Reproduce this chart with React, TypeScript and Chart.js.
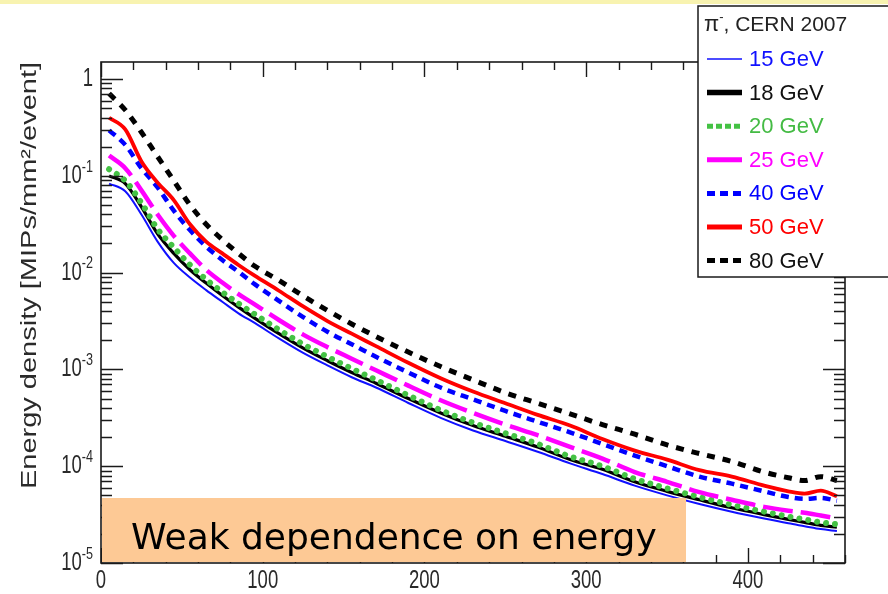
import { useEffect, useRef } from 'react';
import { Chart, registerables } from 'chart.js';

Chart.register(...registerables);

// Radial distance [mm] of each sample point
const DEPTH = [5, 15, 25, 35, 45, 55, 65, 75, 85, 95, 110, 125, 140, 155, 170, 190, 210, 230, 250, 270, 290, 310, 330, 350, 370, 390, 410, 425, 435, 445, 455];

// Energy density [MIPs/mm^2/event] per beam energy
const E15 = [0.0832, 0.0692, 0.0398, 0.0209, 0.0126, 8.9e-3, 6.6e-3, 5.0e-3, 3.8e-3, 3.02e-3, 2.09e-3, 1.48e-3, 1.1e-3, 8.3e-4, 6.5e-4, 4.5e-4, 3.16e-4, 2.34e-4, 1.82e-4, 1.41e-4, 1.07e-4, 8.3e-5, 6.3e-5, 5.0e-5, 4.07e-5, 3.39e-5, 2.88e-5, 2.57e-5, 2.4e-5, 2.24e-5, 2.14e-5];
const E18 = [0.1, 0.0832, 0.0479, 0.0251, 0.0158, 0.0107, 7.8e-3, 5.8e-3, 4.4e-3, 3.39e-3, 2.34e-3, 1.66e-3, 1.23e-3, 9.3e-4, 7.2e-4, 5.0e-4, 3.55e-4, 2.63e-4, 2.04e-4, 1.58e-4, 1.17e-4, 9.3e-5, 6.9e-5, 5.5e-5, 4.5e-5, 3.72e-5, 3.16e-5, 2.82e-5, 2.63e-5, 2.45e-5, 2.34e-5];
const E20 = [0.117, 0.0891, 0.0525, 0.0282, 0.0182, 0.012, 8.5e-3, 6.3e-3, 4.8e-3, 3.72e-3, 2.57e-3, 1.82e-3, 1.35e-3, 1.02e-3, 7.8e-4, 5.4e-4, 3.8e-4, 2.82e-4, 2.19e-4, 1.7e-4, 1.26e-4, 1.0e-4, 7.4e-5, 5.9e-5, 4.8e-5, 3.98e-5, 3.39e-5, 3.02e-5, 2.82e-5, 2.63e-5, 2.51e-5];
const E25 = [0.162, 0.12, 0.0708, 0.0398, 0.024, 0.0158, 0.0107, 7.9e-3, 6.0e-3, 4.7e-3, 3.24e-3, 2.29e-3, 1.7e-3, 1.29e-3, 9.8e-4, 6.8e-4, 4.8e-4, 3.55e-4, 2.69e-4, 2.09e-4, 1.58e-4, 1.2e-4, 8.7e-5, 6.9e-5, 5.4e-5, 4.5e-5, 3.8e-5, 3.47e-5, 3.31e-5, 3.09e-5, 2.88e-5];
const E40 = [0.295, 0.209, 0.12, 0.0759, 0.0437, 0.0275, 0.0186, 0.0135, 0.0102, 7.6e-3, 5.1e-3, 3.47e-3, 2.45e-3, 1.82e-3, 1.35e-3, 9.3e-4, 6.5e-4, 4.9e-4, 3.72e-4, 2.88e-4, 2.24e-4, 1.7e-4, 1.29e-4, 1.0e-4, 7.8e-5, 6.6e-5, 5.5e-5, 4.8e-5, 4.6e-5, 4.7e-5, 4.4e-5];
const E50 = [0.398, 0.302, 0.141, 0.0851, 0.0562, 0.0316, 0.0209, 0.0158, 0.012, 9.3e-3, 6.5e-3, 4.47e-3, 3.16e-3, 2.34e-3, 1.74e-3, 1.17e-3, 8.1e-4, 5.9e-4, 4.47e-4, 3.39e-4, 2.63e-4, 1.91e-4, 1.45e-4, 1.17e-4, 9.1e-5, 7.8e-5, 6.3e-5, 5.5e-5, 5.2e-5, 5.6e-5, 4.9e-5];
const E80 = [0.708, 0.479, 0.282, 0.158, 0.0891, 0.0501, 0.0316, 0.0219, 0.0158, 0.0117, 8.3e-3, 5.75e-3, 4.07e-3, 2.95e-3, 2.19e-3, 1.51e-3, 1.07e-3, 7.8e-4, 5.75e-4, 4.47e-4, 3.47e-4, 2.69e-4, 2.14e-4, 1.66e-4, 1.35e-4, 1.12e-4, 8.7e-5, 7.6e-5, 7.1e-5, 7.8e-5, 7.1e-5];

const SERIES_LABELS = ['15 GeV', '18 GeV', '20 GeV', '25 GeV', '40 GeV', '50 GeV', '80 GeV'];
const SERIES_VALUES = [E15, E18, E20, E25, E40, E50, E80];

const X_TICKS = [0, 100, 200, 300, 400];
const Y_EXPONENTS = [0, -1, -2, -3, -4, -5];

const LEGEND_TITLE = ', CERN 2007';
const Y_TITLE = 'Energy density [MIPs/mm²/event]';
const NOTE = 'Weak dependence on energy';

// Line appearance per series (plot and legend key)
const STYLES = [
  { color: '#1010ff', text: '#1010ff', width: 2, dash: [] as number[], cap: 'butt', keyWidth: 1.5, keyDash: [] as number[] },
  { color: '#000000', text: '#111111', width: 3.2, dash: [], cap: 'butt', keyWidth: 5.5, keyDash: [] },
  { color: '#44c244', text: '#44bb44', width: 6, dash: [0.01, 9], cap: 'round', keyWidth: 5, keyDash: [6, 3] },
  { color: '#ff00ff', text: '#ff00ff', width: 4.5, dash: [30, 8], cap: 'butt', keyWidth: 5, keyDash: [] },
  { color: '#0000ff', text: '#0000ff', width: 4.5, dash: [8, 6], cap: 'butt', keyWidth: 5, keyDash: [8, 5] },
  { color: '#ff0000', text: '#ff0000', width: 3.8, dash: [], cap: 'butt', keyWidth: 5, keyDash: [] },
  { color: '#000000', text: '#111111', width: 5, dash: [8, 8], cap: 'butt', keyWidth: 5, keyDash: [8, 5] },
];

const AXIS_FONT = '"Liberation Sans", Arial, sans-serif';
const SQUEEZE = 0.74;

const rootDecor = {
  id: 'rootDecor',
  afterDatasetsDraw(chart: any) {
    const { ctx, chartArea, scales } = chart;
    const { left, right, top, bottom } = chartArea;
    const xs = scales.x;
    const ys = scales.y;
    ctx.save();
    ctx.strokeStyle = '#1a1a1a';
    ctx.lineWidth = 1.6;
    ctx.strokeRect(left, top, right - left, bottom - top);

    ctx.lineWidth = 1.4;
    ctx.beginPath();
    for (let v = 0; v <= xs.max; v += 20) {
      const px = Math.round(xs.getPixelForValue(v)) + 0.5;
      const len = v % 100 === 0 ? 15 : 8;
      ctx.moveTo(px, top);
      ctx.lineTo(px, top + len);
      ctx.moveTo(px, bottom);
      ctx.lineTo(px, bottom - len);
    }
    for (let e = -5; e <= 0; e++) {
      for (let m = 1; m <= 9; m++) {
        const val = m * Math.pow(10, e);
        if (val > ys.max) break;
        const py = Math.round(ys.getPixelForValue(val)) + 0.5;
        const len = m === 1 ? 22 : 11;
        ctx.moveTo(left, py);
        ctx.lineTo(left + len, py);
        ctx.moveTo(right, py);
        ctx.lineTo(right - len, py);
      }
    }
    ctx.stroke();
    ctx.restore();
  },
  afterDraw(chart: any) {
    const { ctx, chartArea, scales } = chart;
    const { left, top, bottom } = chartArea;
    const xs = scales.x;
    const ys = scales.y;
    ctx.save();

    // strip along the top edge
    ctx.fillStyle = '#f8f3b0';
    ctx.fillRect(0, 0, chart.width, 4);

    // x tick labels
    ctx.fillStyle = '#2a2a2a';
    ctx.textBaseline = 'top';
    ctx.textAlign = 'center';
    for (const v of X_TICKS) {
      const px = xs.getPixelForValue(v);
      ctx.save();
      ctx.translate(px, bottom + 6);
      ctx.scale(SQUEEZE, 1);
      ctx.font = `25px ${AXIS_FONT}`;
      ctx.fillText(String(v), 0, 0);
      ctx.restore();
    }

    // y tick labels: 1, 10^-1 ... 10^-5
    for (const e of Y_EXPONENTS) {
      const py = ys.getPixelForValue(Math.pow(10, e));
      const xr = left - 8;
      ctx.save();
      ctx.translate(xr, py);
      ctx.scale(SQUEEZE, 1);
      ctx.textBaseline = 'middle';
      ctx.textAlign = 'right';
      if (e === 0) {
        ctx.font = `25px ${AXIS_FONT}`;
        ctx.fillText('1', 0, 0);
      } else {
        ctx.font = `17px ${AXIS_FONT}`;
        const sup = String(e);
        const w = ctx.measureText(sup).width;
        ctx.fillText(sup, 0, -9);
        ctx.font = `25px ${AXIS_FONT}`;
        ctx.fillText('10', -w, 0);
      }
      ctx.restore();
    }

    // y axis title
    ctx.save();
    ctx.translate(30, top);
    ctx.scale(SQUEEZE, 1);
    ctx.rotate(-Math.PI / 2);
    ctx.font = `29px ${AXIS_FONT}`;
    ctx.fillStyle = '#2a2a2a';
    ctx.textAlign = 'right';
    ctx.textBaseline = 'middle';
    ctx.fillText(Y_TITLE, 0, 0);
    ctx.restore();

    // annotation box
    const boxRight = 686;
    const boxTop = 498;
    ctx.fillStyle = '#fdc995';
    ctx.fillRect(left + 1, boxTop, boxRight - left - 1, bottom - boxTop - 1);
    ctx.fillStyle = '#000000';
    ctx.font = '36px "DejaVu Sans", Verdana, sans-serif';
    ctx.textAlign = 'left';
    ctx.textBaseline = 'alphabetic';
    ctx.fillText(NOTE, 131, 549);

    // legend
    const lx = 698;
    const ly = 6;
    ctx.fillStyle = '#ffffff';
    ctx.fillRect(lx, ly, chart.width - lx + 10, 271);
    ctx.strokeStyle = '#1a1a1a';
    ctx.lineWidth = 1.5;
    ctx.strokeRect(lx, ly, chart.width - lx + 10, 271);

    ctx.fillStyle = '#222222';
    ctx.textBaseline = 'alphabetic';
    ctx.font = `22px ${AXIS_FONT}`;
    ctx.fillText('π', 704, 31);
    let tx = 704 + ctx.measureText('π').width;
    ctx.font = `13px ${AXIS_FONT}`;
    ctx.fillText('-', tx, 21);
    tx += ctx.measureText('-').width;
    ctx.font = `21px ${AXIS_FONT}`;
    ctx.fillText(LEGEND_TITLE, tx, 31);

    SERIES_LABELS.forEach((label, i) => {
      const st = STYLES[i];
      const yy = 59 + i * 33.6;
      ctx.save();
      ctx.strokeStyle = st.color;
      ctx.lineWidth = st.keyWidth;
      ctx.setLineDash(st.keyDash);
      ctx.beginPath();
      ctx.moveTo(707, yy);
      ctx.lineTo(742, yy);
      ctx.stroke();
      ctx.restore();
      ctx.fillStyle = st.text;
      ctx.font = `22px ${AXIS_FONT}`;
      ctx.textBaseline = 'middle';
      ctx.fillText(label, 749, yy + 1);
    });

    ctx.restore();
  },
};

export default function App() {
  const canvasRef = useRef<HTMLCanvasElement | null>(null);

  useEffect(() => {
    const canvas = canvasRef.current;
    if (!canvas) return;
    const datasets = SERIES_LABELS.map((label, i) => {
      const st = STYLES[i];
      return {
        label,
        data: DEPTH.map((d, k) => ({ x: d, y: SERIES_VALUES[i][k] })),
        borderColor: st.color,
        borderWidth: st.width,
        borderDash: st.dash,
        borderCapStyle: st.cap as CanvasLineCap,
        pointRadius: 0,
        fill: false,
        cubicInterpolationMode: 'monotone' as const,
        order: SERIES_LABELS.length - i,
      };
    });
    const chart = new Chart(canvas, {
      type: 'line',
      data: { datasets },
      options: {
        responsive: false,
        animation: false,
        devicePixelRatio: 1,
        layout: { padding: { left: 101, top: 62, right: 43, bottom: 31 } },
        plugins: { legend: { display: false }, tooltip: { enabled: false } },
        scales: {
          x: { type: 'linear', min: 0, max: 460, display: false },
          y: { type: 'logarithmic', min: 1e-5, max: 1.5, display: false },
        },
      },
      plugins: [rootDecor],
    });
    return () => chart.destroy();
  }, []);

  return (
    <div style={{ position: 'absolute', left: 0, top: 0, width: 888, height: 594, background: '#ffffff' }}>
      <canvas ref={canvasRef} width={888} height={594} style={{ display: 'block' }} />
    </div>
  );
}
